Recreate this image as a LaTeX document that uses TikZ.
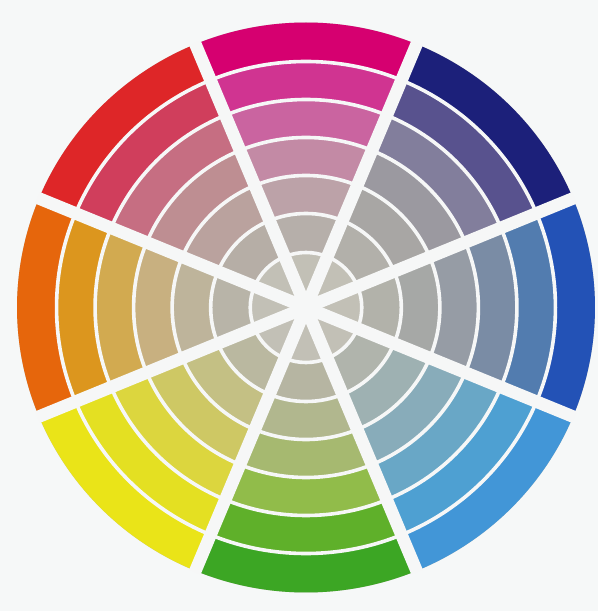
\documentclass[tikz,border=0pt]{standalone}
\definecolor{bg}{RGB}{246,248,248}
\definecolor{gap}{RGB}{246,247,247}
\definecolor{core}{RGB}{194,192,182}
% magenta (top)
\definecolor{mag1}{RGB}{214,0,112}\definecolor{mag2}{RGB}{208,52,145}\definecolor{mag3}{RGB}{202,100,160}
\definecolor{mag4}{RGB}{195,138,165}\definecolor{mag5}{RGB}{188,162,168}\definecolor{mag6}{RGB}{182,175,170}
% navy
\definecolor{nav1}{RGB}{28,32,122}\definecolor{nav2}{RGB}{88,82,142}\definecolor{nav3}{RGB}{130,126,156}
\definecolor{nav4}{RGB}{155,153,160}\definecolor{nav5}{RGB}{168,166,164}\definecolor{nav6}{RGB}{178,176,170}
% blue
\definecolor{blu1}{RGB}{35,82,182}\definecolor{blu2}{RGB}{82,124,175}\definecolor{blu3}{RGB}{122,140,165}
\definecolor{blu4}{RGB}{150,156,165}\definecolor{blu5}{RGB}{166,168,166}\definecolor{blu6}{RGB}{178,178,170}
% light blue
\definecolor{lbl1}{RGB}{66,150,215}\definecolor{lbl2}{RGB}{78,160,210}\definecolor{lbl3}{RGB}{105,167,198}
\definecolor{lbl4}{RGB}{136,172,186}\definecolor{lbl5}{RGB}{158,177,178}\definecolor{lbl6}{RGB}{176,180,172}
% green
\definecolor{grn1}{RGB}{60,166,36}\definecolor{grn2}{RGB}{95,176,42}\definecolor{grn3}{RGB}{145,188,74}
\definecolor{grn4}{RGB}{166,185,112}\definecolor{grn5}{RGB}{177,183,142}\definecolor{grn6}{RGB}{182,181,162}
% yellow
\definecolor{yel1}{RGB}{234,228,24}\definecolor{yel2}{RGB}{228,224,34}\definecolor{yel3}{RGB}{220,214,62}
\definecolor{yel4}{RGB}{206,200,100}\definecolor{yel5}{RGB}{196,192,132}\definecolor{yel6}{RGB}{186,184,160}
% orange
\definecolor{ora1}{RGB}{230,102,12}\definecolor{ora2}{RGB}{220,150,30}\definecolor{ora3}{RGB}{210,170,80}
\definecolor{ora4}{RGB}{200,176,128}\definecolor{ora5}{RGB}{190,180,155}\definecolor{ora6}{RGB}{184,180,168}
% red
\definecolor{red1}{RGB}{222,38,40}\definecolor{red2}{RGB}{208,62,92}\definecolor{red3}{RGB}{198,110,130}
\definecolor{red4}{RGB}{190,142,146}\definecolor{red5}{RGB}{186,162,158}\definecolor{red6}{RGB}{182,174,166}
\tikzset{
  ringline/.style={draw=gap, line width=3.6pt},
  spoke/.style={draw=gap, line width=12.5pt, line cap=butt}
}
\begin{document}
\begin{tikzpicture}[x=1pt,y=1pt]
  \fill[bg] (0,0) rectangle (598,611);
  \useasboundingbox (0,0) rectangle (598,611);
  \begin{scope}[shift={(306,303.5)}, xscale=1.014]
    \fill[core] (0,0) circle[radius=285];
    \foreach \ang/\nm in {90/mag,45/nav,0/blu,-45/lbl,-90/grn,-135/yel,180/ora,135/red}{
      \foreach \ro/\ri [count=\k] in {285/246,246/208,208/170,170/132,132/94,94/55}{
        \fill[\nm\k] (\ang-22.5:\ro) arc[start angle=\ang-22.5, end angle=\ang+22.5, radius=\ro]
          -- (\ang+22.5:\ri) arc[start angle=\ang+22.5, end angle=\ang-22.5, radius=\ri] -- cycle;
      }
    }
    \foreach \r in {246,208,170,132,94,55}{
      \draw[ringline] (0,0) circle[radius=\r];
    }
    \foreach \a in {22.5,67.5,112.5,157.5}{
      \draw[spoke] (\a:286.5) -- (\a+180:286.5);
    }
  \end{scope}
\end{tikzpicture}
\end{document}
